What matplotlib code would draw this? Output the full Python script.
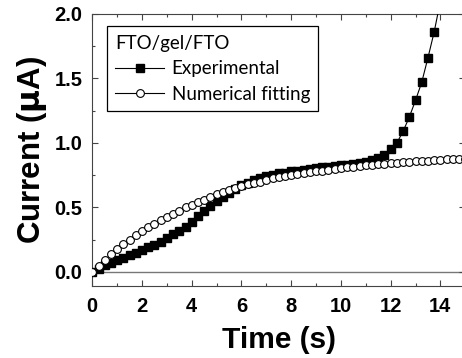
import numpy as np
import matplotlib.pyplot as plt
from matplotlib.ticker import MultipleLocator

# experimental current, sampled every 0.25 s
t_exp = np.arange(57) * 0.25
i_exp = [0.00, 0.02, 0.05, 0.07, 0.09, 0.11, 0.13, 0.15, 0.17, 0.19,
         0.21, 0.23, 0.26, 0.29, 0.32, 0.35, 0.39, 0.43, 0.47, 0.51,
         0.55, 0.58, 0.61, 0.64, 0.67, 0.69, 0.71, 0.73, 0.745, 0.755,
         0.765, 0.77, 0.78, 0.785, 0.79, 0.80, 0.805, 0.81, 0.815, 0.82,
         0.825, 0.83, 0.835, 0.845, 0.855, 0.865, 0.88, 0.91, 0.95, 1.00,
         1.09, 1.20, 1.33, 1.47, 1.66, 1.86, 2.10]

# numerical fit, same step
t_fit = np.arange(61) * 0.25
i_fit = [0.00, 0.045, 0.09, 0.135, 0.175, 0.215, 0.25, 0.285, 0.315, 0.345,
         0.375, 0.40, 0.425, 0.45, 0.475, 0.50, 0.52, 0.54, 0.56, 0.58,
         0.60, 0.62, 0.635, 0.65, 0.665, 0.68, 0.69, 0.70, 0.715, 0.725,
         0.735, 0.745, 0.75, 0.76, 0.765, 0.775, 0.78, 0.785, 0.79, 0.80,
         0.805, 0.81, 0.815, 0.82, 0.825, 0.83, 0.835, 0.84, 0.842, 0.845,
         0.85, 0.853, 0.856, 0.86, 0.863, 0.866, 0.869, 0.872, 0.874, 0.876,
         0.878]

plt.rcParams["font.family"] = ["Liberation Sans", "DejaVu Sans"]

fig = plt.figure(figsize=(4.62, 3.58), dpi=100)
ax = fig.add_axes([0.1998, 0.201, 0.8072, 0.760])

ax.axhline(0, color="#777777", lw=1.0, zorder=1)
ax.plot(t_exp, i_exp, "-s", color="black", lw=0.8, ms=6, mfc="black",
        mec="black", label="Experimental", zorder=3)
ax.plot(t_fit, i_fit, "-o", color="black", lw=0.8, ms=5.6, mfc="white",
        mec="black", mew=0.8, label="Numerical fitting", zorder=4)

ax.set_xlim(0, 15)
ax.set_ylim(-0.11, 2.0)
ax.xaxis.set_major_locator(MultipleLocator(2))
ax.xaxis.set_minor_locator(MultipleLocator(1))
ax.yaxis.set_major_locator(MultipleLocator(0.5))
ax.yaxis.set_minor_locator(MultipleLocator(0.25))
ax.set_yticks([0, 0.5, 1.0, 1.5, 2.0])
ax.set_yticklabels(["0.0", "0.5", "1.0", "1.5", "2.0"])
ax.tick_params(which="both", direction="in", top=True, right=True,
               color="#444444", width=0.8)
ax.tick_params(which="major", length=4, labelsize=14.5)
ax.tick_params(axis="x", which="major", pad=8)
ax.tick_params(axis="y", which="major", pad=7)
ax.tick_params(which="minor", length=2.5)
for lab in ax.get_xticklabels() + ax.get_yticklabels():
    lab.set_fontweight("bold")
for sp in ax.spines.values():
    sp.set_color("#444444")
    sp.set_linewidth(0.8)

ax.set_xlabel("Time (s)", fontsize=21.5, fontweight="bold", labelpad=7)
ax.set_ylabel("Current ($\\mathbf{\\mu}$A)", fontsize=22.5, fontweight="bold", labelpad=4)

leg = ax.legend(loc="upper left", bbox_to_anchor=(0.039, 0.955), borderaxespad=0,
                title="FTO/gel/FTO", alignment="left", fancybox=False,
                edgecolor="black", handlelength=2.6, handletextpad=0.4,
                prop={"family": "Lato", "size": 13.5},
                title_fontproperties={"family": "Lato", "size": 13.5},
                borderpad=0.45, labelspacing=0.45)
leg.get_frame().set_linewidth(0.9)
leg.get_frame().set_alpha(1)

fig.savefig("out.png", dpi=100)
